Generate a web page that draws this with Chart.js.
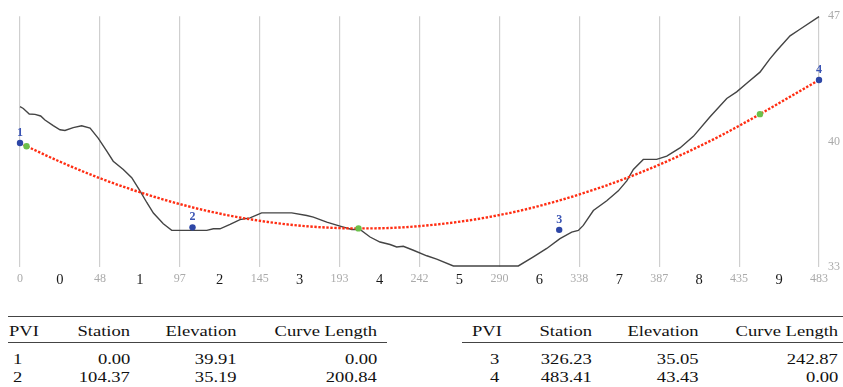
<!DOCTYPE html>
<html>
<head>
<meta charset="utf-8">
<script src="https://cdn.jsdelivr.net/npm/chart.js@4/dist/chart.umd.min.js"></script>
<style>
  body { margin: 0; background: #fff; font-family: "Liberation Serif", serif; }
  #wrap { position: relative; width: 843px; height: 387px; overflow: hidden; }
  #chart { position: absolute; left: 0; top: 0; }
  .rule { position: absolute; height: 1px; background: #444; }
  .cell { position: absolute; font-family: "Liberation Serif", serif; font-size: 14.5px; line-height: 16px;
          color: #111; white-space: nowrap; transform: scaleX(1.28); }
</style>
</head>
<body>
<div id="wrap">
  <canvas id="chart" width="843" height="300"></canvas>
</div>
<script>
// PVI table
const pviNumbers = [1, 2, 3, 4];
const pviStations = [0.00, 104.37, 326.23, 483.41];
const pviElevations = [39.91, 35.19, 35.05, 43.43];
const curveLengths = [0.00, 200.84, 242.87, 0.00];

// start / end of the vertical curves (green)
const curveEndStations = [3.95, 204.79, 447.66];
const curveEndElevations = [39.73, 35.13, 41.52];

// design profile (red dotted)
const profileStations = [0, 3.95, 25, 50, 75, 100, 125, 150, 175, 204.79, 225, 250, 275, 300, 325, 350, 375, 400, 425, 447.66, 465, 483.41];
const profileElevations = [39.91, 39.73, 38.83, 37.88, 37.08, 36.41, 35.88, 35.49, 35.24, 35.13, 35.16, 35.33, 35.63, 36.07, 36.66, 37.38, 38.24, 39.24, 40.37, 41.52, 42.45, 43.43];

// existing ground (black)
const groundStations = [0, 2.0, 5.6, 9.1, 12.5, 15.1, 20.1, 24.2, 27.2, 32.2, 37.3, 42.4, 47.4, 52.5, 56.4, 62.5, 67.6, 72.6, 76.7, 80.7, 86.7, 91.8, 113.0, 117.0, 121.0, 127.1, 133.1, 139.2, 146.2, 164.4, 173.5, 177.5, 185.6, 193.6, 200.7, 205.7, 211.8, 217.8, 223.9, 227.9, 231.9, 238.0, 246.1, 252.1, 262.2, 301.5, 310.6, 318.7, 326.7, 333.8, 337.8, 340.8, 346.9, 355.0, 362.0, 367.1, 371.1, 377.1, 385.2, 391.3, 399.3, 407.4, 417.5, 427.6, 433.6, 440.6, 447.7, 453.7, 457.8, 465.9, 471.9, 483.41];
const groundElevations = [41.94, 41.84, 41.53, 41.51, 41.42, 41.19, 40.88, 40.65, 40.61, 40.77, 40.87, 40.74, 40.17, 39.45, 38.89, 38.43, 37.97, 37.23, 36.58, 35.99, 35.39, 35.02, 35.02, 35.11, 35.11, 35.35, 35.62, 35.72, 36.00, 36.00, 35.85, 35.76, 35.48, 35.26, 35.07, 35.07, 34.65, 34.37, 34.23, 34.09, 34.13, 33.91, 33.60, 33.41, 33.03, 33.03, 33.54, 34.01, 34.56, 34.92, 35.02, 35.30, 36.13, 36.68, 37.23, 37.79, 38.43, 38.99, 38.99, 39.17, 39.63, 40.28, 41.38, 42.40, 42.77, 43.32, 43.87, 44.61, 45.07, 45.90, 46.27, 46.98];

// axes
const stationTicks = [0, 48.34, 96.68, 145.02, 193.36, 241.71, 290.05, 338.39, 386.73, 435.07, 483.41];
const stationTickLabels = ['0', '48', '97', '145', '193', '242', '290', '338', '387', '435', '483'];
const segmentCenters = [24.17, 72.51, 120.85, 169.19, 217.54, 265.88, 314.22, 362.56, 410.90, 459.24];
const segmentLabels = ['0', '1', '2', '3', '4', '5', '6', '7', '8', '9'];
const elevationTicks = [33, 40, 47];

const SERIF = '"Liberation Serif", "DejaVu Serif", serif';
const toXY = (xs, ys) => xs.map((x, i) => ({ x: x, y: ys[i] }));
const isSegment = v => segmentCenters.includes(v);
const segCtx = c => !!(c && c.tick && isSegment(c.tick.value));

const pviLabels = {
    id: 'pviLabels',
    afterDatasetsDraw(chart) {
        const ctx = chart.ctx;
        const meta = chart.getDatasetMeta(1);
        ctx.save();
        ctx.font = 'bold 12px ' + SERIF;
        ctx.fillStyle = '#3a54b4';
        ctx.textAlign = 'center';
        ctx.textBaseline = 'bottom';
        meta.data.forEach((el, i) => {
            ctx.fillText(String(pviNumbers[i]), el.x, el.y - 4);
        });
        ctx.restore();
    }
};

new Chart(document.getElementById('chart'), {
    type: 'scatter',
    data: {
        datasets: [
            {
                data: toXY(curveEndStations, curveEndElevations),
                backgroundColor: '#6cc04a', borderWidth: 0, pointRadius: 3.2, clip: false
            },
            {
                data: toXY(pviStations, pviElevations),
                backgroundColor: '#2d46a6', borderWidth: 0, pointRadius: 3.2, clip: false
            },
            {
                data: toXY(profileStations, profileElevations),
                showLine: true, borderColor: '#ff2d12', borderWidth: 2.4,
                borderDash: [2.4, 1.6], pointRadius: 0,
                cubicInterpolationMode: 'monotone', clip: false
            },
            {
                data: toXY(groundStations, groundElevations),
                showLine: true, borderColor: '#444444', borderWidth: 1.4,
                pointRadius: 0, tension: 0, clip: false
            }
        ]
    },
    options: {
        responsive: false,
        animation: false,
        layout: { padding: { left: 20, right: 0, top: 13.5, bottom: 3.5 } },
        plugins: { legend: { display: false }, tooltip: { enabled: false } },
        scales: {
            x: {
                type: 'linear', min: 0, max: 483.41,
                border: { display: false },
                grid: {
                    drawTicks: false, lineWidth: 1.2,
                    color: c => segCtx(c) ? 'rgba(0,0,0,0)' : '#cfcfcf'
                },
                afterBuildTicks: s => {
                    s.ticks = stationTicks.concat(segmentCenters).sort((a, b) => a - b).map(v => ({ value: v }));
                },
                afterFit: s => { s.height = 30; },
                ticks: {
                    autoSkip: false, maxRotation: 0, padding: 5,
                    callback: v => isSegment(v) ? segmentLabels[segmentCenters.indexOf(v)]
                                                : stationTickLabels[stationTicks.indexOf(v)],
                    color: c => segCtx(c) ? '#1a1a1a' : '#aaaaaa',
                    font: c => segCtx(c)
                        ? { family: SERIF, size: 14.5 }
                        : { family: SERIF, size: 12 }
                }
            },
            y: {
                type: 'linear', position: 'right', min: 33, max: 47,
                border: { display: false },
                grid: { display: false, drawTicks: false },
                afterBuildTicks: s => { s.ticks = elevationTicks.map(v => ({ value: v })); },
                afterFit: s => { s.width = 24; },
                ticks: {
                    padding: 9, color: '#aaaaaa',
                    font: { family: SERIF, size: 12 }
                }
            }
        }
    },
    plugins: [pviLabels]
});

// tables under the chart
const wrap = document.getElementById('wrap');
function addRule(x1, x2, y) {
    const d = document.createElement('div');
    d.className = 'rule';
    d.style.left = x1 + 'px'; d.style.width = (x2 - x1) + 'px'; d.style.top = y + 'px';
    wrap.appendChild(d);
}
function addCell(text, x, y, align) {
    const d = document.createElement('div');
    d.className = 'cell';
    d.textContent = text;
    d.style.top = (y - 9) + 'px';
    if (align === 'right') {
        d.style.right = (843 - x) + 'px';
        d.style.transformOrigin = 'right center';
    } else {
        d.style.left = x + 'px';
        d.style.transformOrigin = 'left center';
    }
    wrap.appendChild(d);
}

const headers = ['PVI', 'Station', 'Elevation', 'Curve Length'];
const tables = [
    { rows: [0, 1], pviX: 9, valX: 13, valAlign: 'left', cols: [130, 237, 377], ruleFrom: 8, ruleTo: 387 },
    { rows: [2, 3], pviX: 472, valX: 499, valAlign: 'right', cols: [592, 699, 838], ruleFrom: 462, ruleTo: 843 }
];
const rowY = [360, 378];

addRule(8, 843, 316);
tables.forEach(t => {
    addCell(headers[0], t.pviX, 332, 'left');
    headers.slice(1).forEach((h, j) => addCell(h, t.cols[j], 332, 'right'));
    addRule(t.ruleFrom, t.ruleTo, 342);
    t.rows.forEach((r, k) => {
        addCell(String(pviNumbers[r]), t.valX, rowY[k], t.valAlign);
        addCell(pviStations[r].toFixed(2), t.cols[0], rowY[k], 'right');
        addCell(pviElevations[r].toFixed(2), t.cols[1], rowY[k], 'right');
        addCell(curveLengths[r].toFixed(2), t.cols[2], rowY[k], 'right');
    });
});
</script>
</body>
</html>
